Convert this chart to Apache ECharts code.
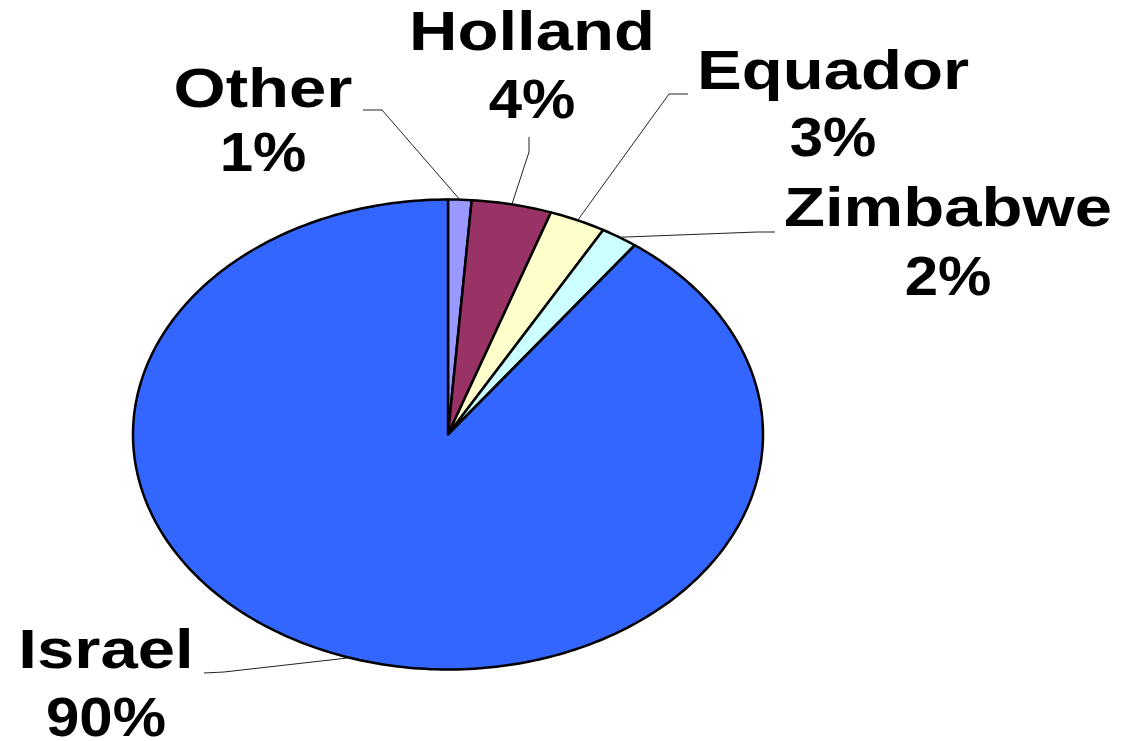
<!DOCTYPE html>
<html>
<head>
<meta charset="utf-8">
<script src="https://cdn.jsdelivr.net/npm/echarts@6/dist/echarts.min.js"></script>
<style>
html,body{margin:0;padding:0;background:#fff;}
#chart{width:1124px;height:741px;}
</style>
</head>
<body>
<div id="chart"></div>
<script>
// ---- data ----
var categories = ['Other', 'Holland', 'Equador', 'Zimbabwe', 'Israel'];
var values = [1.2, 4.1, 2.9, 1.9, 89.9];
var colors = ['#9999FF', '#993366', '#FFFFCC', '#CCFFFF', '#3366FF'];

// ---- layout (not data) ----
var PIE = { cx: 448, cy: 434.5, rx: 315, ry: 235 };
// label centre x, name cap-middle y, percent cap-middle y
var labelLayout = [
  { x: 263, ny: 91.5, py: 155.5 },
  { x: 532, ny: 35, py: 103 },
  { x: 833, ny: 74, py: 141 },
  { x: 948, ny: 210.5, py: 280 },
  { x: 106, ny: 652.5, py: 721 }
];
// leader line points after the slice edge point
var leaderLayout = [
  [[382, 110], [363, 110]],
  [[529, 152], [529, 137]],
  [[669, 94], [688, 94]],
  [[757, 232], [775, 232]],
  [[224, 672], [204, 673]]
];

var total = values.reduce(function (a, b) { return a + b; }, 0);
var starts = [];
(function () { var c = 0; for (var i = 0; i < values.length; i++) { starts.push(c); c += values[i]; } })();
var seriesData = values.map(function (v, i) { return { value: [starts[i], v, i], name: categories[i] }; });

function pt(t) { // t: angle in radians, clockwise from 12 o'clock
  return [PIE.cx + PIE.rx * Math.sin(t), PIE.cy - PIE.ry * Math.cos(t)];
}

var FONT = 'bold 55px "Liberation Sans", Arial, sans-serif';

var chart = echarts.init(document.getElementById('chart'));
chart.setOption({
  backgroundColor: '#ffffff',
  animation: false,
  series: [{
    type: 'custom',
    coordinateSystem: 'none',
    data: seriesData,
    renderItem: function (params, api) {
      var s = api.value(0), v = api.value(1), idx = api.value(2);
      var a0 = s / total * Math.PI * 2, a1 = (s + v) / total * Math.PI * 2;
      var n = Math.max(2, Math.ceil((a1 - a0) / (Math.PI / 180)));
      var pts = [[PIE.cx, PIE.cy]];
      for (var k = 0; k <= n; k++) pts.push(pt(a0 + (a1 - a0) * k / n));
      var mid = pt((a0 + a1) / 2);
      var leader = [mid].concat(leaderLayout[idx]);
      var L = labelLayout[idx];
      var pct = Math.round(v / total * 100) + '%';
      return {
        type: 'group',
        children: [
          { type: 'polygon', shape: { points: pts },
            style: { fill: colors[idx], stroke: '#000', lineWidth: 2.5, lineJoin: 'round' } },
          { type: 'polyline', shape: { points: leader },
            style: { stroke: '#222', lineWidth: 1, fill: null } },
          { type: 'text', x: L.x, y: L.ny, scaleX: 1.22,
            style: { text: categories[idx], font: FONT, fill: '#000', align: 'center', verticalAlign: 'middle' } },
          { type: 'text', x: L.x, y: L.py, scaleX: 1.09,
            style: { text: pct, font: FONT, fill: '#000', align: 'center', verticalAlign: 'middle' } }
        ]
      };
    }
  }]
});
</script>
</body>
</html>
